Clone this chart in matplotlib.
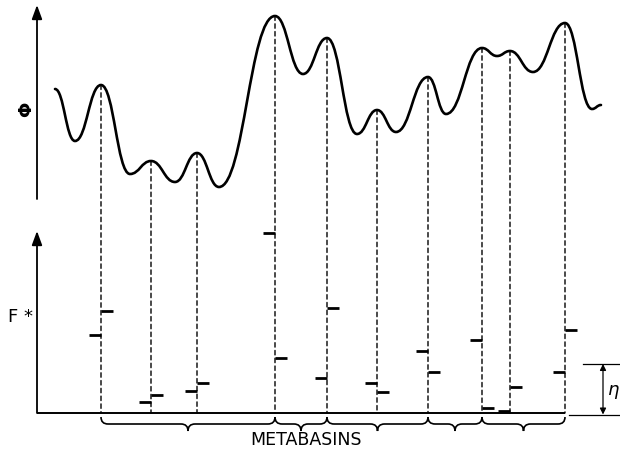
import matplotlib
matplotlib.use("Agg")
import matplotlib.pyplot as plt
from matplotlib.path import Path
from matplotlib.patches import PathPatch, ConnectionPatch

# ---- data (schematic units) ----
# extrema of the potential-energy curve Phi along the configuration coordinate
curve_x = [55, 75, 101, 130, 151, 175, 197, 219, 275, 303, 327, 357, 377, 396,
           428, 446, 482, 497, 510, 533, 565, 592, 601]
curve_phi = [110, 58, 114, 25, 38, 17, 46, 12, 183, 125, 161, 65, 89, 67,
             122, 85, 151, 143, 148, 127, 176, 90, 94]
# indices of the transition states (maxima) in the curve lists
ts_index = [2, 4, 6, 8, 10, 12, 14, 16, 18, 20]
# F* on the left and right side of each transition state
fstar_left = [78, 11, 22, 180, 35, 30, 62, 73, 2, 41]
fstar_right = [102, 18, 30, 55, 105, 21, 41, 5, 26, 83]
# transition states (by position in ts_index) that bound metabasins
metabasin_bounds = [0, 3, 4, 6, 7, 9]
eta = 49

W, H = 620, 456
fig = plt.figure(figsize=(W / 100, H / 100), dpi=100)
ax_top = fig.add_axes([0, 1 - 200 / H, 1, 200 / H])
ax_bot = fig.add_axes([0, 1 - 414 / H, 1, (414 - 230) / H])
ax_top.set_xlim(0, W); ax_top.set_ylim(0, 200)
ax_bot.set_xlim(0, W); ax_bot.set_ylim(0, 184)
for ax in (ax_top, ax_bot):
    ax.set_axis_off()

ax0 = 37
# axes arrows
ax_top.annotate('', xy=(ax0, 194), xytext=(ax0, 0),
                arrowprops=dict(arrowstyle='-|>,head_length=0.6,head_width=0.22',
                                lw=1.3, color='k',
                                mutation_scale=14, shrinkA=0, shrinkB=0),
                annotation_clip=False)
ax_bot.annotate('', xy=(ax0, 182), xytext=(ax0, 0),
                arrowprops=dict(arrowstyle='-|>,head_length=0.6,head_width=0.22',
                                lw=1.3, color='k',
                                mutation_scale=14, shrinkA=0, shrinkB=0),
                annotation_clip=False)
ts_x = [curve_x[i] for i in ts_index]
ts_phi = [curve_phi[i] for i in ts_index]
ax_bot.plot([ax0, ts_x[-1]], [0, 0], color='k', lw=1.4, clip_on=False,
            solid_capstyle='butt')

# smooth curve through extrema (horizontal tangents)
verts = [(curve_x[0], curve_phi[0])]
codes = [Path.MOVETO]
k = 0.45
for i in range(1, len(curve_x)):
    x0, y0 = curve_x[i - 1], curve_phi[i - 1]
    x1, y1 = curve_x[i], curve_phi[i]
    d = (x1 - x0) * k
    verts += [(x0 + d, y0), (x1 - d, y1), (x1, y1)]
    codes += [Path.CURVE4] * 3
ax_top.add_patch(PathPatch(Path(verts, codes), fill=False, lw=1.9,
                           edgecolor='k', capstyle='round', joinstyle='round'))

# dashed drop lines from each transition state
for x, p in zip(ts_x, ts_phi):
    con = ConnectionPatch(xyA=(x, p), coordsA=ax_top.transData,
                          xyB=(x, 0), coordsB=ax_bot.transData,
                          linestyle=(0, (3.2, 2.4)), lw=1.0, color='k')
    fig.add_artist(con)

# F* bars
blen = 12
for x, fl, fr in zip(ts_x, fstar_left, fstar_right):
    ax_bot.plot([x - blen, x], [fl, fl], color='k', lw=2.0,
                solid_capstyle='butt', clip_on=False)
    ax_bot.plot([x, x + blen], [fr, fr], color='k', lw=2.0,
                solid_capstyle='butt', clip_on=False)

# braces for metabasins
def brace(ax, xa, xb, ytop=-4, ymid=-11, ytip=-18, r=7):
    xm = (xa + xb) / 2
    v = [(xa, ytop), (xa, ymid), (xa + r, ymid), (xm - r, ymid),
         (xm, ymid), (xm, ytip), (xm, ymid), (xm + r, ymid),
         (xb - r, ymid), (xb, ymid), (xb, ytop)]
    c = [Path.MOVETO, Path.CURVE3, Path.CURVE3, Path.LINETO,
         Path.CURVE3, Path.CURVE3, Path.CURVE3, Path.CURVE3,
         Path.LINETO, Path.CURVE3, Path.CURVE3]
    p = PathPatch(Path(v, c), fill=False, lw=1.2, edgecolor='k')
    p.set_clip_on(False)
    ax.add_patch(p)

for a, b in zip(metabasin_bounds[:-1], metabasin_bounds[1:]):
    brace(ax_bot, ts_x[a], ts_x[b])

ax_bot.text(306, -26, 'METABASINS', ha='center', va='center', fontsize=12.5,
            family='DejaVu Sans', clip_on=False)

# eta marker
ax_bot.plot([583, W], [eta, eta], color='k', lw=0.9, clip_on=False)
ax_bot.plot([569, W], [-1.5, -1.5], color='k', lw=0.9, clip_on=False)
ax_bot.annotate('', xy=(603, eta), xytext=(603, -1.5),
                arrowprops=dict(arrowstyle='<|-|>', lw=0.9, color='k',
                                mutation_scale=9, shrinkA=0, shrinkB=0),
                annotation_clip=False)
ax_bot.text(613, 22, r'$\eta$', ha='center', va='center', fontsize=13)

# axis labels
ax_top.text(27, 90, r'$\mathbf{\Phi}$', ha='center', va='center', fontsize=13,
            rotation=90)
ax_bot.text(21, 97, 'F *', ha='center', va='center', fontsize=13)

fig.savefig('out.png', dpi=100)
